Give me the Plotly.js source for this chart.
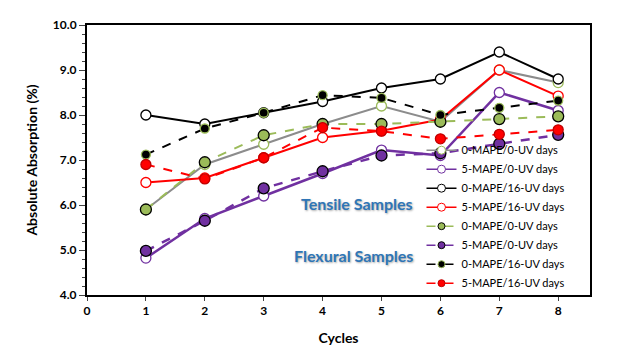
<!DOCTYPE html>
<html>
<head>
<meta charset="utf-8">
<script src="https://cdn.plot.ly/plotly-3.0.1.min.js"></script>
<style>
  html, body { margin: 0; padding: 0; background: white; }
  #chart { width: 627px; height: 358px; }
</style>
</head>
<body>
<div id="chart"></div>
<script>
// absorption data per cycle
const cycles = [1, 2, 3, 4, 5, 6, 7, 8];

// tensile samples (solid lines, open markers)
const tens_0mape_0uv  = [5.90, 6.90, 7.35, 7.80, 8.20, 7.85, 9.00, 8.72];
const tens_5mape_0uv  = [4.82, 5.70, 6.20, 6.70, 7.22, 7.10, 8.50, 8.10];
const tens_0mape_16uv = [8.00, 7.80, 8.05, 8.30, 8.60, 8.80, 9.40, 8.80];
const tens_5mape_16uv = [6.50, 6.60, 7.05, 7.50, 7.65, 7.90, 9.00, 8.42];

// flexural samples (dashed lines, filled markers)
const flex_0mape_0uv  = [5.90, 6.95, 7.55, 7.80, 7.80, 7.85, 7.91, 7.97];
const flex_5mape_0uv  = [4.98, 5.65, 6.37, 6.75, 7.10, 7.15, 7.36, 7.56];
const flex_0mape_16uv = [7.12, 7.70, 8.05, 8.44, 8.38, 8.00, 8.16, 8.32];
const flex_5mape_16uv = [6.90, 6.58, 7.05, 7.72, 7.64, 7.47, 7.57, 7.67];

const labels = ['0-MAPE/0-UV days', '5-MAPE/0-UV days', '0-MAPE/16-UV days', '5-MAPE/16-UV days'];

const GREEN = '#9BBB59';
const PURPLE = '#7030A0';
const GRAY = '#8C8C8C';
const RED = '#FF0000';

// style of each series: [line colour, marker fill, marker outline, marker size, line width, dash]
const styles = [
    [GRAY, 'white', GREEN, 10, 2, 'solid'],
    [PURPLE, 'white', PURPLE, 10, 2.5, 'solid'],
    ['black', 'white', 'black', 10, 2, 'solid'],
    [RED, 'white', RED, 10, 2, 'solid'],
    [GREEN, GREEN, 'black', 11, 2, 'dash'],
    [PURPLE, PURPLE, 'black', 11, 2.5, 'dash'],
    ['black', 'black', GREEN, 9, 2, 'dash'],
    [RED, RED, '#C00000', 10, 2, 'dash']
];

const series = [
    tens_0mape_0uv, tens_5mape_0uv, tens_0mape_16uv, tens_5mape_16uv,
    flex_0mape_0uv, flex_5mape_0uv, flex_0mape_16uv, flex_5mape_16uv
];

function makeTrace(y, i, legendOnly) {
    const s = styles[i];
    const size = legendOnly ? (s[1] === 'white' ? 8 : 7) : s[3];
    return {
        x: legendOnly ? [null] : cycles,
        y: legendOnly ? [null] : y,
        name: labels[i % 4],
        type: 'scatter',
        mode: 'lines+markers',
        showlegend: legendOnly,
        line: { color: s[0], width: legendOnly ? 1.5 : s[4], dash: s[5] },
        marker: { size: size, color: s[1], line: { color: s[2], width: legendOnly ? 1 : 1.3 } }
    };
}

// real data traces, then small-marker copies for the legend only
const traces = series.map((y, i) => makeTrace(y, i, false))
    .concat(series.map((y, i) => makeTrace(y, i, true)));

const font = 'Lato, "Open Sans", sans-serif';

const layout = {
    width: 627,
    height: 358,
    margin: { l: 87, r: 37, t: 25, b: 63 },
    paper_bgcolor: 'white',
    plot_bgcolor: 'white',
    font: { family: font, color: 'black' },
    xaxis: {
        range: [0, 8.54],
        dtick: 1,
        tick0: 0,
        showgrid: false,
        zeroline: false,
        showline: true,
        mirror: true,
        linecolor: 'black',
        linewidth: 2,
        ticks: 'outside',
        ticklen: 4,
        tickwidth: 1,
        tickfont: { size: 12, weight: 'bold' },
        title: { text: 'Cycles', font: { size: 14, weight: 'bold' }, standoff: 16 }
    },
    yaxis: {
        range: [4, 10],
        dtick: 1,
        tickformat: '.1f',
        showgrid: false,
        zeroline: false,
        showline: true,
        mirror: true,
        linecolor: 'black',
        linewidth: 2,
        ticks: 'outside',
        ticklen: 6,
        tickwidth: 1,
        minor: { dtick: 0.2, ticks: 'outside', ticklen: 3, tickwidth: 1, showgrid: false },
        tickfont: { size: 12, weight: 'bold' },
        title: { text: 'Absolute Absorption (%)', font: { size: 14, weight: 'bold' }, standoff: 12 }
    },
    showlegend: true,
    legend: {
        x: 0.665,
        xanchor: 'left',
        y: -0.01,
        yanchor: 'bottom',
        bgcolor: 'rgba(0,0,0,0)',
        font: { size: 11, family: font },
        tracegroupgap: 0
    },
    annotations: [
        {
            text: 'Tensile Samples', xref: 'paper', yref: 'paper',
            x: 0.652, y: 0.34, xanchor: 'right', yanchor: 'middle', showarrow: false,
            font: { size: 16, weight: 'bold', color: '#2E75B6', shadow: '1px 1px 2px #aaa' }
        },
        {
            text: 'Flexural Samples', xref: 'paper', yref: 'paper',
            x: 0.652, y: 0.148, xanchor: 'right', yanchor: 'middle', showarrow: false,
            font: { size: 16, weight: 'bold', color: '#2E75B6', shadow: '1px 1px 2px #aaa' }
        }
    ]
};

const config = {
    responsive: false,
    displayModeBar: false
};

Plotly.newPlot('chart', traces, layout, config);
</script>
</body>
</html>
